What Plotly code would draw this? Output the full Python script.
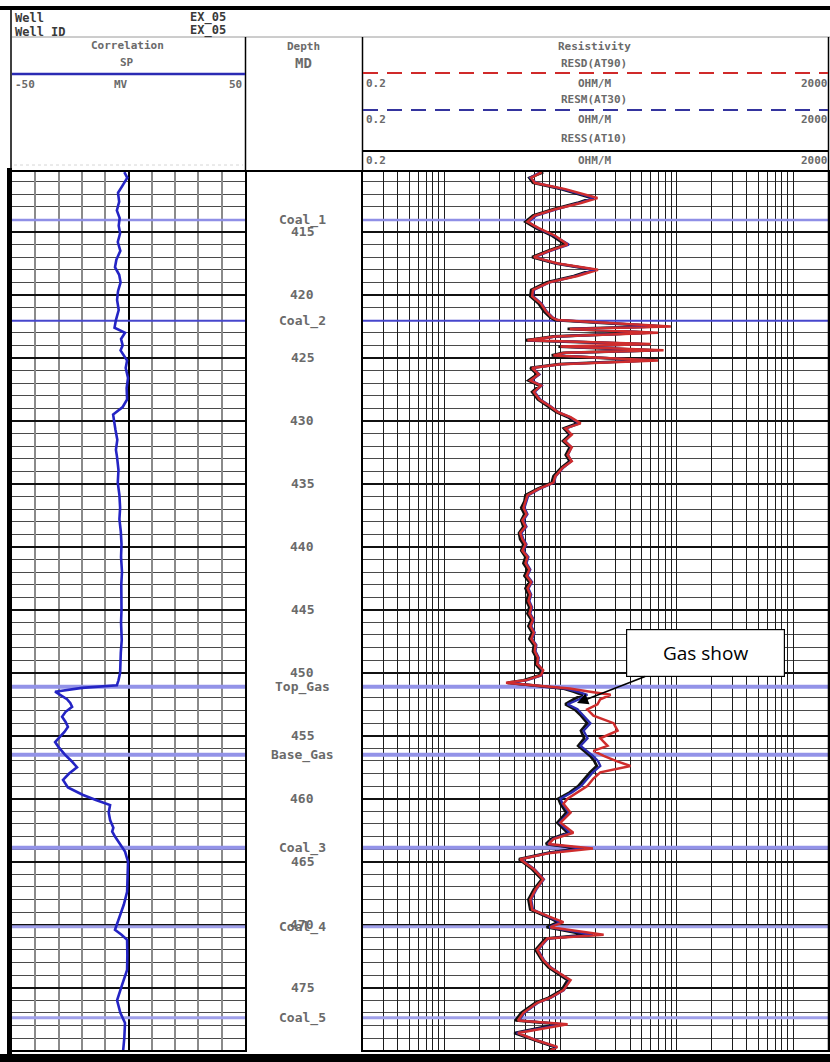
import math
import plotly.graph_objects as go

W, H = 830, 1062

# ---------------------------------------------------------------- log data --
# Resistivity curves (ohm.m) sampled on a common depth list (m MD)
res_depth = [
    410.25, 410.7, 411.1, 411.6, 412.3, 412.7, 413.2, 413.7, 414.2, 414.7,
    415.3, 416.0, 416.5, 417.0, 417.5, 418.0, 418.5, 419.0, 419.6, 420.1,
    420.7, 421.3, 421.8, 422.0, 422.5, 422.7, 423.0, 423.3, 423.6, 423.9,
    424.1, 424.4, 424.6, 424.8, 425.2, 425.5, 425.8, 426.3, 426.8, 427.2,
    427.7, 428.3, 428.8, 429.3, 429.7, 430.2, 430.6, 431.1, 431.6, 432.1,
    432.7, 433.2, 433.7, 434.4, 434.9, 435.4, 435.9, 436.4, 436.9, 437.4,
    437.9, 438.4, 438.9, 439.4, 439.8, 440.3, 440.8, 441.3, 441.8, 442.3,
    442.8, 443.3, 443.8, 444.3, 444.8, 445.3, 445.8, 446.3, 446.8, 447.3,
    447.8, 448.3, 448.8, 449.3, 449.8, 450.2, 450.6, 450.8, 451.0, 451.25,
    451.5, 451.75, 452.1, 452.5, 452.9, 453.4, 454.0, 454.6, 455.2, 455.8,
    456.2, 456.6, 457.0, 457.4, 457.9, 458.4, 459.0, 459.5, 460.0, 460.4,
    461.1, 461.9, 462.7, 463.2, 463.6, 463.95, 464.3, 464.8, 465.6, 466.4,
    467.2, 468.0, 468.8, 469.4, 469.8, 470.2, 470.8, 471.1, 472.0, 472.8,
    473.4, 474.4, 475.2, 475.8, 476.2, 477.0, 477.6, 477.9, 478.6, 479.2,
    479.7, 480.0,
]
resd = [
    6.9, 5.6, 6.0, 11.0, 20.8, 15.0, 9.0, 6.0, 5.2, 6.5,
    9.0, 11.5, 8.0, 5.9, 9.5, 21.0, 14.0, 8.0, 5.8, 5.7,
    6.8, 7.5, 8.5, 9.4, 89.0, 12.0, 69.0, 9.0, 5.2, 60.0,
    10.0, 77.0, 11.0, 8.7, 69.0, 10.0, 5.7, 6.5, 5.5, 6.8,
    5.9, 6.6, 8.0, 9.5, 12.2, 14.9, 11.0, 12.5, 10.8, 12.5,
    11.5, 12.5, 10.5, 9.0, 8.7, 6.5, 5.2, 5.0, 4.8, 5.1,
    4.7, 5.0, 4.5, 4.7, 5.0, 4.7, 5.2, 5.0, 5.4, 5.1,
    5.6, 5.2, 5.5, 5.3, 5.6, 5.4, 5.8, 5.5, 5.9, 5.6,
    6.1, 6.0, 6.4, 6.3, 7.1, 6.8, 5.0, 3.4, 6.0, 12.0,
    18.0, 27.0, 22.0, 20.8, 17.0, 19.2, 28.6, 31.0, 22.0, 25.4,
    19.2, 23.5, 30.0, 40.0, 22.0, 19.2, 17.0, 14.0, 11.5, 10.6,
    12.2, 10.0, 12.9, 8.7, 7.9, 19.0, 8.2, 4.5, 5.9, 7.1,
    6.1, 5.5, 5.7, 8.2, 10.6, 8.2, 23.5, 7.7, 6.3, 7.1,
    8.2, 12.2, 10.6, 8.2, 6.3, 4.8, 4.3, 11.5, 4.3, 6.3,
    9.4, 8.2,
]
resm = [
    6.7, 5.5, 6.2, 10.5, 19.5, 14.5, 9.2, 6.2, 5.3, 6.4,
    8.8, 11.8, 8.2, 6.0, 9.2, 19.8, 13.5, 8.1, 5.9, 5.8,
    6.9, 7.6, 8.6, 9.5, 80.0, 12.5, 62.0, 9.2, 5.3, 55.0,
    10.5, 70.0, 11.2, 8.9, 62.0, 10.3, 5.8, 6.6, 5.6, 6.9,
    6.0, 6.7, 8.1, 9.6, 12.0, 14.5, 11.2, 12.3, 11.0, 12.4,
    11.6, 12.4, 10.6, 9.1, 8.8, 6.6, 5.3, 5.1, 4.9, 5.2,
    4.8, 5.1, 4.6, 4.8, 5.1, 4.8, 5.3, 5.1, 5.5, 5.2,
    5.7, 5.3, 5.6, 5.4, 5.7, 5.5, 5.9, 5.6, 6.0, 5.7,
    6.2, 6.1, 6.5, 6.4, 7.0, 6.9, 5.1, 3.6, 6.2, 11.0,
    14.0, 17.0, 14.5, 11.5, 14.0, 15.8, 18.1, 15.8, 17.1, 14.9,
    17.0, 19.0, 21.0, 22.0, 19.0, 17.0, 15.0, 12.5, 10.0, 10.4,
    11.8, 9.8, 12.0, 8.6, 7.8, 16.0, 8.0, 4.6, 6.0, 7.2,
    6.2, 5.6, 5.8, 8.0, 10.0, 8.0, 19.0, 7.8, 6.4, 7.2,
    8.3, 12.0, 10.7, 8.3, 6.4, 4.9, 4.4, 10.5, 4.2, 6.4,
    9.2, 8.3,
]
ress = [
    7.1, 5.4, 5.8, 10.2, 18.5, 14.0, 8.6, 5.8, 5.0, 6.2,
    8.5, 11.0, 7.8, 5.7, 9.0, 19.0, 13.0, 7.6, 5.6, 5.5,
    6.5, 7.2, 8.2, 9.0, 72.0, 11.5, 58.0, 8.7, 5.0, 50.0,
    9.6, 64.0, 10.5, 8.4, 57.0, 9.7, 5.5, 6.3, 5.3, 6.6,
    5.7, 6.4, 7.7, 9.2, 11.6, 14.0, 10.7, 12.0, 10.5, 12.0,
    11.1, 12.0, 10.2, 8.7, 8.4, 6.3, 5.0, 4.9, 4.6, 4.9,
    4.6, 4.8, 4.4, 4.5, 4.8, 4.6, 5.0, 4.8, 5.2, 4.9,
    5.4, 5.0, 5.3, 5.1, 5.4, 5.2, 5.6, 5.3, 5.7, 5.4,
    5.9, 5.8, 6.2, 6.1, 6.8, 6.6, 4.8, 3.5, 5.8, 10.5,
    13.0, 15.5, 13.0, 11.0, 13.2, 15.0, 17.0, 15.0, 16.0, 14.2,
    16.0, 18.0, 19.5, 20.5, 18.0, 16.2, 14.2, 12.0, 9.6, 10.0,
    11.2, 9.4, 11.5, 8.3, 7.5, 14.5, 7.8, 4.4, 5.7, 6.9,
    5.9, 5.3, 5.5, 7.8, 9.5, 7.6, 17.0, 7.4, 6.1, 6.9,
    7.9, 11.5, 10.2, 7.9, 6.1, 4.6, 4.1, 9.5, 4.0, 6.1,
    8.9, 7.9,
]

# Spontaneous potential (mV)
sp_depth = [
    410.25, 410.7, 411.3, 411.9, 412.6, 413.3, 413.9, 414.5, 415.1, 415.8,
    416.5, 417.2, 417.8, 418.4, 419.0, 419.7, 420.4, 421.2, 422.0, 422.6,
    423.0, 423.5, 424.0, 424.4, 425.2, 425.8, 426.6, 427.4, 428.3, 428.9,
    429.5, 430.1, 430.7, 431.5, 432.3, 432.9, 433.9, 434.9, 435.9, 436.9,
    437.8, 438.8, 439.8, 440.8, 442.0, 443.0, 444.0, 445.0, 446.0, 447.4,
    448.4, 449.4, 450.0, 450.6, 451.0, 451.2, 451.5, 451.8, 452.1, 452.4,
    452.7, 453.1, 453.5, 453.9, 454.3, 454.7, 455.1, 455.5, 455.9, 456.5,
    457.0, 457.5, 458.0, 458.5, 459.1, 459.7, 460.1, 460.5, 461.1, 461.7,
    462.3, 462.6, 463.0, 463.6, 464.2, 465.0, 466.0, 467.4, 468.4, 469.4,
    470.0, 470.4, 470.8, 471.2, 472.4, 473.6, 474.8, 476.0, 477.0, 477.8,
    479.0, 480.0,
]
sp_mv = [
    -1.8, -0.5, -2.5, -4.5, -4.0, -5.0, -3.8, -4.2, -3.6, -4.6,
    -3.5, -5.2, -5.8, -4.0, -3.4, -4.5, -4.9, -4.2, -5.4, -6.0,
    -1.5, -3.2, -2.5, -3.4, -0.6, -1.2, -0.2, -0.8, -0.6, -2.5,
    -6.6, -6.2, -5.6, -4.8, -5.4, -4.9, -4.3, -4.6, -3.9, -3.6,
    -3.9, -3.3, -3.0, -3.2, -2.8, -3.1, -2.9, -3.0, -3.2, -2.9,
    -3.3, -3.3, -3.6, -4.3, -5.0, -20.0, -31.5, -29.0, -26.4, -25.0,
    -24.2, -27.0, -28.5, -27.0, -26.0, -27.5, -29.5, -31.5, -30.0, -27.3,
    -24.5, -22.1, -25.5, -28.1, -26.0, -19.5, -14.0, -7.9, -8.5, -7.9,
    -6.5, -7.0, -5.8, -3.5, -1.5, -0.2, -0.5, -0.6, -2.0, -3.8,
    -5.2, -5.8, -3.0, -0.6, -0.5, -0.6, -2.8, -4.9, -3.5, -1.5,
    -1.8, -2.3,
]

# Formation tops (m MD)
top_names = ["Coal_1", "Coal_2", "Top_Gas", "Base_Gas", "Coal_3", "Coal_4", "Coal_5"]
top_depths = [414.05, 422.06, 451.11, 456.5, 463.9, 470.16, 477.38]

depth_ticks = [415, 420, 425, 430, 435, 440, 445, 450, 455, 460, 465, 470, 475, 480]

sp_range = [-50, 50]
res_range = [0.2, 2000]
depth_range = [479.95, 410.24]

# ------------------------------------------------------------- styling ------
top_style = {
    "Coal_1": ("#8f8fe6", 2.5),
    "Coal_2": ("#4646cc", 2),
    "Top_Gas": ("#9393e8", 4),
    "Base_Gas": ("#9393e8", 4),
    "Coal_3": ("#9393e8", 4),
    "Coal_4": ("#a0a0ea", 3),
    "Coal_5": ("#a0a0ea", 3),
}


def px(x):
    return x / W


def py(y):
    return 1 - y / H


fig = go.Figure()

# formation top lines across both curve tracks
for name, d in zip(top_names, top_depths):
    col, wid = top_style[name]
    fig.add_trace(go.Scatter(x=sp_range, y=[d, d], xaxis="x", yaxis="y", mode="lines",
                             line=dict(color=col, width=wid), hoverinfo="skip"))
    fig.add_trace(go.Scatter(x=res_range, y=[d, d], xaxis="x2", yaxis="y2", mode="lines",
                             line=dict(color=col, width=wid), hoverinfo="skip"))

# SP curve
fig.add_trace(go.Scatter(x=sp_mv, y=sp_depth, xaxis="x", yaxis="y", mode="lines",
                         line=dict(color="#2424c4", width=2.6), name="SP"))

# resistivity curves (shallow, medium, deep)
fig.add_trace(go.Scatter(x=ress, y=res_depth, xaxis="x2", yaxis="y2", mode="lines",
                         line=dict(color="#111111", width=2.8), name="RESS(AT10)"))
fig.add_trace(go.Scatter(x=resm, y=res_depth, xaxis="x2", yaxis="y2", mode="lines",
                         line=dict(color="#2a2ab0", width=2.3), name="RESM(AT30)"))
fig.add_trace(go.Scatter(x=resd, y=res_depth, xaxis="x2", yaxis="y2", mode="lines",
                         line=dict(color="#cf2d2d", width=2.5), name="RESD(AT90)"))

grid_top, grid_bot = 172, 1050
ydom = [py(grid_bot), py(grid_top)]

yax = dict(range=depth_range, domain=ydom, tick0=410, dtick=5, showgrid=True,
           gridcolor="#111111", gridwidth=2, showticklabels=False, ticks="",
           zeroline=False, showline=True, mirror=True, linecolor="#000000", linewidth=2,
           minor=dict(tick0=410, dtick=1, showgrid=True, gridcolor="#4a4a4a", gridwidth=1.2))

log_grid = [m * 10 ** e for e in range(-1, 4) for m in range(1, 10)
            if res_range[0] <= m * 10 ** e <= res_range[1]]

fig.update_layout(
    width=W, height=H, margin=dict(l=0, r=0, t=0, b=0),
    paper_bgcolor="white", plot_bgcolor="white", showlegend=False,
    xaxis=dict(domain=[px(12), px(245)], range=sp_range, anchor="y",
               tickvals=list(range(-50, 51, 10)), showgrid=True, gridcolor="#8a8a8a",
               gridwidth=2, showticklabels=False, ticks="",
               zeroline=True, zerolinecolor="#000000", zerolinewidth=1.6,
               showline=True, mirror=True, linecolor="#000000", linewidth=1.5),
    yaxis=dict(anchor="x", **yax),
    xaxis2=dict(domain=[px(363), px(828)], type="log",
                range=[math.log10(res_range[0]), math.log10(res_range[1])], anchor="y2",
                tickvals=log_grid, showgrid=True, gridcolor="#1c1c1c", gridwidth=1.2,
                showticklabels=False, ticks="", zeroline=False,
                showline=True, mirror=True, linecolor="#000000", linewidth=1.5),
    yaxis2=dict(anchor="x2", matches="y", **yax),
)

# ---------------------------------------------------------- frame & header --
shapes = []


def rect(x0, y0, x1, y1, color):
    shapes.append(dict(type="rect", xref="paper", yref="paper", x0=px(x0), x1=px(x1),
                       y0=py(y1), y1=py(y0), fillcolor=color, line=dict(width=0),
                       layer="above"))


def hline(y, x0, x1, color, width, dash="solid"):
    shapes.append(dict(type="line", xref="paper", yref="paper", x0=px(x0), x1=px(x1),
                       y0=py(y), y1=py(y), line=dict(color=color, width=width, dash=dash),
                       layer="above"))


def vline(x, y0, y1, color, width):
    shapes.append(dict(type="line", xref="paper", yref="paper", x0=px(x), x1=px(x),
                       y0=py(y0), y1=py(y1), line=dict(color=color, width=width),
                       layer="above"))


rect(0, 6, 830, 10, "#000000")          # top bar
rect(0, 1054, 830, 1062, "#000000")     # bottom bar
rect(7, 168, 12, 1054, "#000000")       # left edge of the log
vline(11, 10, 168, "#000000", 1.5)
hline(37, 12, 830, "#9a9a9a", 1)
vline(245.5, 37, 172, "#000000", 1.5)
vline(362.5, 37, 172, "#000000", 1.5)
vline(828.5, 37, 1050, "#000000", 1.5)
hline(171, 12, 829, "#000000", 2)
hline(165, 14, 243, "#d6d6d6", 1, "dot")

# curve legend samples in the header
hline(74, 12, 245, "#2b2bb4", 2.5)
hline(73, 363, 828, "#d02a2a", 2, "15px,9px")
hline(110, 363, 828, "#34349e", 2, "15px,9px")
hline(151, 363, 828, "#000000", 2)

fig.update_layout(shapes=shapes)

mono = "DejaVu Sans Mono"


def label(text, x, y, size=11, color="#6a6a6a", anchor="center", bold=True, family=mono):
    t = f"<b>{text}</b>" if bold else text
    fig.add_annotation(x=px(x), y=py(y), xref="paper", yref="paper", text=t,
                       showarrow=False, xanchor=anchor, yanchor="middle",
                       font=dict(family=family, size=size, color=color))


label("Well", 13, 18, 12, "#3a3a3a", "left")
label("Well ID", 13, 32, 12, "#3a3a3a", "left")
label("EX_05", 188, 17, 12, "#3a3a3a", "left")
label("EX_05", 188, 31, 12, "#3a3a3a", "left")

label("Correlation", 127, 45)
label("SP", 127, 63)
label("-50", 13, 84, anchor="left")
label("MV", 121, 84)
label("50", 244, 84, anchor="right")

label("Depth", 303, 46)
label("MD", 303, 63, 14)

label("Resistivity", 594, 46)
label("RESD(AT90)", 594, 64)
label("RESM(AT30)", 594, 100)
label("RESS(AT10)", 594, 138)
for yy in (83, 120, 160):
    label("0.2", 364, yy, anchor="left")
    label("OHM/M", 594, yy)
    label("2000", 830, yy, anchor="right")

# depth track: depth numbers and formation names
for d in depth_ticks:
    fig.add_annotation(x=px(302), y=d, xref="paper", yref="y", text=f"<b>{d}</b>",
                       showarrow=False, yanchor="middle",
                       font=dict(family=mono, size=13, color="#6a6a6a"))
for name, d in zip(top_names, top_depths):
    fig.add_annotation(x=px(302), y=d, xref="paper", yref="y", text=f"<b>{name}</b>",
                       showarrow=False, yanchor="middle",
                       font=dict(family=mono, size=13, color="#6a6a6a"))

# callout
fig.add_annotation(x=px(577), y=py(703), xref="paper", yref="paper",
                   text="Gas show", showarrow=True, ax=128, ay=-50,
                   arrowhead=2, arrowsize=1.4, arrowwidth=1.6, arrowcolor="#000000",
                   bgcolor="#ffffff", bordercolor="#000000", borderwidth=1.2,
                   borderpad=2, width=153, height=42,
                   font=dict(family="Open Sans", size=19, color="#000000"))

fig.write_html("out.html")
